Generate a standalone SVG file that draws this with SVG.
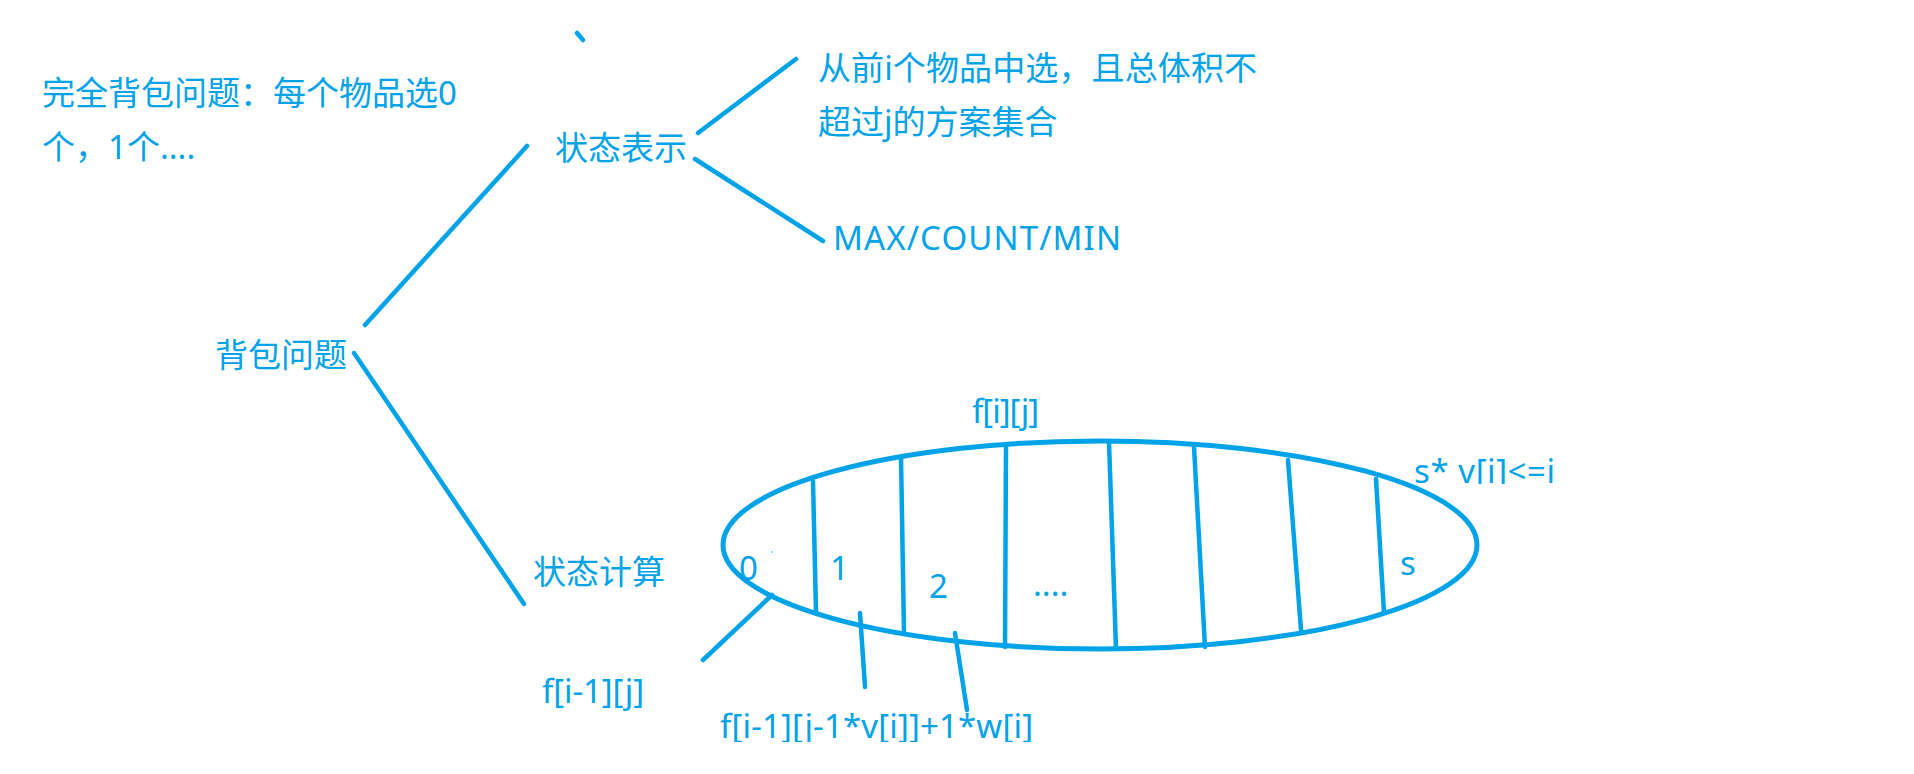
<svg xmlns="http://www.w3.org/2000/svg" width="1914" height="774" viewBox="0 0 1914 774">
<style>
.t{font-family:"Noto Sans","Noto Sans CJK SC",sans-serif;font-size:33px;fill:#00A2E8}
.l{fill:none;stroke:#00A2E8;stroke-width:4.5;stroke-linecap:round;stroke-linejoin:round}
.e{fill:none;stroke:#00A2E8;stroke-width:5}
</style>
<defs>
<clipPath id="clipBottom"><rect x="0" y="0" width="1914" height="742"/></clipPath>
<clipPath id="clipS"><rect x="1400" y="440" width="200" height="44"/></clipPath>
</defs>
<rect width="1914" height="774" fill="#ffffff"/>

<g id="connectors">
<path class="l" d="M365,325 L527,146"/>
<path class="l" d="M354,353 L524,604"/>
<path class="l" d="M698,133 L796,59"/>
<path class="l" d="M695,159 L823,241"/>
<path class="l" d="M577,33 L583,40"/>
<path class="l" d="M772,595 L703,660"/>
<path class="l" d="M860,613 L865,687"/>
<path class="l" d="M955,633 L967,710"/>
</g>

<g id="note">
<text class="t" x="42" y="105" textLength="415">完全背包问题：每个物品选0</text>
<text class="t" x="42" y="159">个，1个....</text>
</g>
<g id="node-beibao"><text class="t" x="215" y="367" textLength="132">背包问题</text></g>
<g id="node-zhuangtai-biaoshi"><text class="t" x="555" y="160" textLength="132">状态表示</text></g>
<g id="node-jihe">
<text class="t" x="818" y="80" textLength="439">从前i个物品中选，且总体积不</text>
<text class="t" x="818" y="134">超过j的方案集合</text>
</g>
<g id="node-max"><text class="t" x="833" y="250" font-size="35" textLength="288">MAX/COUNT/MIN</text></g>
<g id="node-zhuangtai-jisuan"><text class="t" x="533" y="584" textLength="132">状态计算</text></g>

<g id="node-ellipse">
<ellipse class="e" cx="1100" cy="545" rx="377" ry="104"/>
<path class="l" d="M813,481 L816,613"/>
<path class="l" d="M901,457 L904,633"/>
<path class="l" d="M1006,446 L1005,647"/>
<path class="l" d="M1109,442 L1116,649"/>
<path class="l" d="M1194,447 L1205,647"/>
<path class="l" d="M1288,460 L1301,630"/>
<path class="l" d="M1376,479 L1384,613"/>
<circle cx="772" cy="552" r="0.8" fill="#00A2E8"/>
<text class="t" x="739" y="580">0</text>
<text class="t" x="830" y="580">1</text>
<text class="t" x="929" y="598">2</text>
<text class="t" x="1033" y="596">....</text>
<text class="t" x="1400" y="575">s</text>
</g>
<g id="label-fij"><text class="t" x="972" y="423" textLength="67">f[i][j]</text></g>
<g id="label-cond" clip-path="url(#clipS)"><text class="t" x="1414" y="483" textLength="141">s* v[i]&lt;=i</text></g>
<g id="label-f0"><text class="t" x="542" y="703" textLength="102">f[i-1][j]</text></g>
<g id="label-f1" clip-path="url(#clipBottom)"><text class="t" x="720" y="738" textLength="313">f[i-1][j-1*v[i]]+1*w[i]</text></g>
</svg>
